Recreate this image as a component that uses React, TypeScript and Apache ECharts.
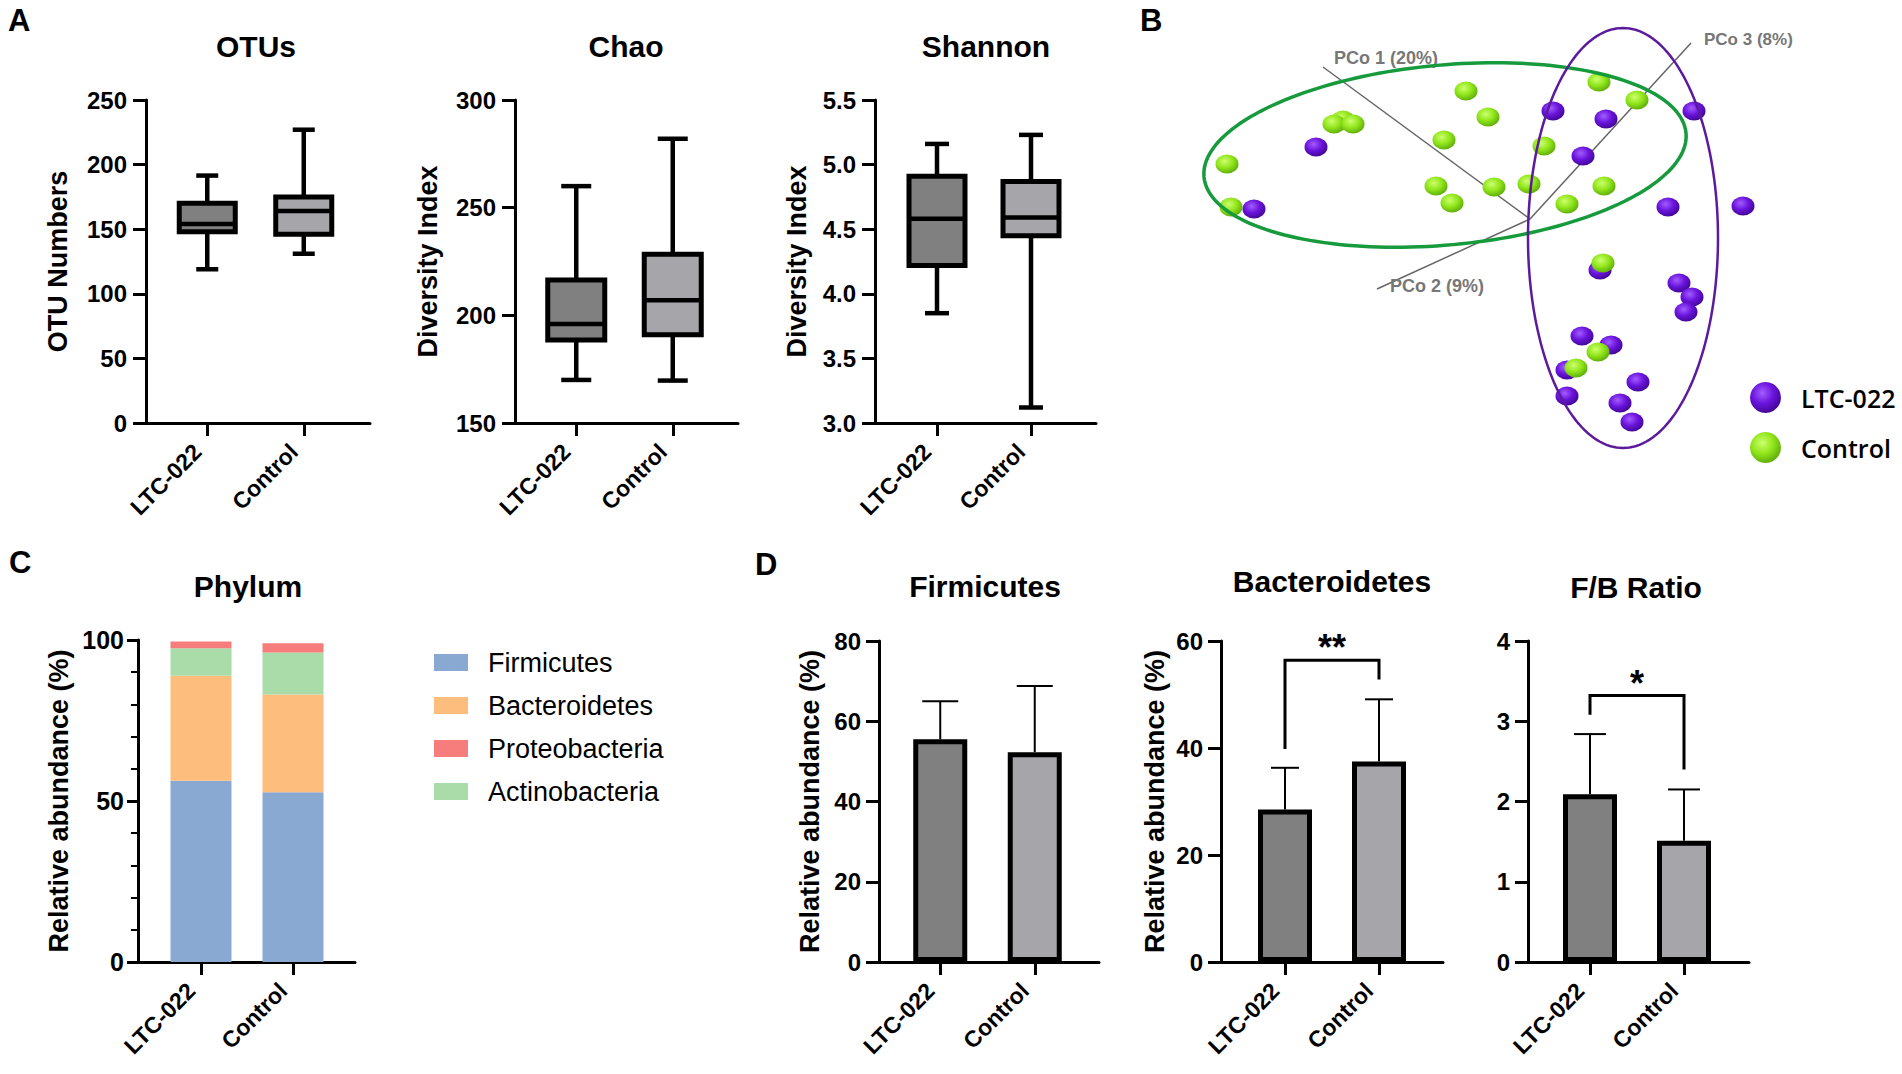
import React, { useEffect, useRef } from 'react';
import * as echarts from 'echarts';

// ---------- data ----------
const groups = ['LTC-022', 'Control'];

// Panel A: box plots, each row = [min, Q1, median, Q3, max]
const otuBoxes = [[119, 148, 154, 170, 191.5], [131, 146, 164, 175, 227]];
const chaoBoxes = [[170, 188.5, 196, 216.4, 260], [169.7, 191, 207, 228.4, 282]];
const shannonBoxes = [[3.85, 4.22, 4.58, 4.91, 5.16], [3.12, 4.45, 4.59, 4.87, 5.23]];

// axis ranges: [min, max, step]
const otuRange = [0, 250, 50];
const chaoRange = [150, 300, 50];
const shannonRange = [3.0, 5.5, 0.5];
const phylumRange = [0, 100, 50];
const firmRange = [0, 80, 20];
const bactRange = [0, 60, 20];
const fbRange = [0, 4, 1];

// Panel B: PCoA scores (projected)
const pcoLabels = ['PCo 1 (20%)', 'PCo 2 (9%)', 'PCo 3 (8%)'];
const pcoAxisEnds = [[-2.07, 1.52], [-1.53, -0.70], [1.61, 1.76]];
const pcoLabelAnchors = [[-1.96, 1.61], [-1.40, -0.67], [1.74, 1.80]];
const ltcScores = [
  [-2.14, 0.72], [-2.76, 0.10], [0.23, 1.08], [0.76, 1.00], [1.64, 1.08], [0.53, 0.63],
  [1.38, 0.12], [2.13, 0.13], [0.70, -0.51], [1.49, -0.64], [1.62, -0.78], [1.56, -0.93],
  [0.52, -1.17], [0.81, -1.26], [0.37, -1.51], [1.08, -1.63], [0.37, -1.77], [0.90, -1.84],
  [1.02, -2.03],
];
const controlScores = [
  [-0.64, 1.28], [-0.42, 1.02], [-1.87, 0.99], [-1.96, 0.95], [-1.77, 0.95], [-0.86, 0.79],
  [-3.03, 0.55], [-0.94, 0.33], [-0.36, 0.32], [-0.78, 0.16], [-2.99, 0.12], [0.69, 1.37],
  [1.07, 1.19], [0.14, 0.73], [-0.01, 0.35], [0.74, 0.33], [0.37, 0.15], [0.73, -0.44],
  [0.68, -1.33], [0.46, -1.49],
];
// [centerX, centerY, radiusX, radiusY, rotationDeg]
const controlEllipse = [-0.85, 0.64, 2.42, 0.90, 5.2];
const ltcEllipse = [0.93, -0.19, 0.95, 2.10, 0];

// Panel C: relative abundance (%) per group
const phylumLegend = ['Firmicutes', 'Bacteroidetes', 'Proteobacteria', 'Actinobacteria'];
const firmicutesPct = [56.3, 52.7];
const bacteroidetesPct = [32.6, 30.4];
const actinobacteriaPct = [8.5, 13.0];
const proteobacteriaPct = [2.1, 2.9];

// Panel D: mean and SD
const firmMean = [55.5, 52.3];
const firmSD = [9.5, 16.5];
const bactMean = [28.5, 37.5];
const bactSD = [7.8, 11.6];
const fbMean = [2.09, 1.51];
const fbSD = [0.75, 0.64];
// significance brackets: [fromGroup, toGroup, barLevel, leftEnd, rightEnd, labelLevel]
const bactBracket = [0, 1, 56.4, 39.8, 52.8, 60.2];
const bactStars = '**';
const fbBracket = [0, 1, 3.32, 3.08, 2.40, 3.57];
const fbStars = '*';

// ---------- styles ----------
const FONT = '"Liberation Sans", Arial, Helvetica, sans-serif';
const GROUP_FILL = ['#808080', '#a6a6aa'];
const PHYLUM_COLORS: Record<string, string> = {
  Firmicutes: '#8aa9d2',
  Bacteroidetes: '#fdbd7c',
  Proteobacteria: '#f77c7c',
  Actinobacteria: '#a9dca8',
};
const SPHERE_PATH = 'path://M0,10 A10,10 0 1,1 20,10 A10,10 0 1,1 0,10 Z';

function buildOption() {
  const grid: any[] = [];
  const xAxis: any[] = [];
  const yAxis: any[] = [];
  const series: any[] = [];

  const axisLine = { show: true, onZero: false, lineStyle: { color: '#000', width: 3 } };

  function panel(p: any) {
    const height = p.bottom - p.top;
    grid.push({ left: p.frameLeft, top: p.top, width: p.frameRight - p.frameLeft, height });
    const fg = grid.length - 1;
    grid.push({ left: p.dataLeft, top: p.top, width: p.dataWidth, height });
    const dg = grid.length - 1;
    xAxis.push({
      type: 'value', gridIndex: fg, min: 0, max: 1, axisLine,
      axisTick: { show: false }, axisLabel: { show: false }, splitLine: { show: false },
    });
    yAxis.push({
      type: 'value', gridIndex: fg, min: p.range[0], max: p.range[1], interval: p.range[2],
      axisLine,
      axisTick: { show: true, length: p.tickLen || 13, lineStyle: { color: '#000', width: 3 } },
      minorTick: p.minor
        ? { show: true, splitNumber: 5, length: 7, lineStyle: { color: '#000', width: 2 } }
        : { show: false },
      axisLabel: {
        color: '#000', fontFamily: FONT, fontWeight: 'bold', fontSize: p.labelSize,
        margin: p.labelMargin, formatter: p.fmt,
      },
      splitLine: { show: false },
      name: p.yName || '', nameLocation: 'middle', nameRotate: 90, nameGap: p.nameGap,
      nameTextStyle: { color: '#000', fontFamily: FONT, fontWeight: 'bold', fontSize: p.nameSize },
    });
    const dx = xAxis.length;
    xAxis.push({
      type: 'category', gridIndex: dg, data: groups,
      axisLine: { show: false },
      axisTick: { show: true, alignWithLabel: true, length: 13, lineStyle: { color: '#000', width: 3 } },
      axisLabel: {
        rotate: 45, interval: 0, margin: 15, padding: [0, 14, 0, 0], color: '#000', fontFamily: FONT,
        fontWeight: 'bold', fontSize: 23,
      },
    });
    const dy = yAxis.length;
    yAxis.push({ type: 'value', gridIndex: dg, min: p.range[0], max: p.range[1], show: false });
    return { x: dx, y: dy };
  }

  function boxSeries(ax: any, boxes: number[][], boxW: number, capW: number) {
    series.push({
      type: 'custom', xAxisIndex: ax.x, yAxisIndex: ax.y, clip: false, z: 3,
      data: boxes.map((b, i) => [i, ...b]),
      encode: { x: 0, y: [1, 2, 3, 4, 5] },
      renderItem: (params: any, api: any) => {
        const i = api.value(0);
        const [pMin, pQ1, pMed, pQ3, pMax] = [1, 2, 3, 4, 5].map((d) => api.coord([i, api.value(d)]));
        const cx = pMed[0];
        const ls = { stroke: '#000', lineWidth: 4.5 };
        return {
          type: 'group',
          children: [
            { type: 'line', shape: { x1: cx, y1: pMax[1], x2: cx, y2: pQ3[1] }, style: ls },
            { type: 'line', shape: { x1: cx, y1: pQ1[1], x2: cx, y2: pMin[1] }, style: ls },
            { type: 'line', shape: { x1: cx - capW / 2, y1: pMax[1], x2: cx + capW / 2, y2: pMax[1] }, style: ls },
            { type: 'line', shape: { x1: cx - capW / 2, y1: pMin[1], x2: cx + capW / 2, y2: pMin[1] }, style: ls },
            {
              type: 'rect',
              shape: { x: cx - boxW / 2, y: pQ3[1], width: boxW, height: pQ1[1] - pQ3[1] },
              style: { fill: GROUP_FILL[params.dataIndex], stroke: '#000', lineWidth: 5 },
            },
            { type: 'line', shape: { x1: cx - boxW / 2, y1: pMed[1], x2: cx + boxW / 2, y2: pMed[1] }, style: ls },
          ],
        };
      },
    });
  }

  function meanBars(ax: any, name: string, mean: number[], sd: number[], capW: number) {
    series.push({
      type: 'bar', name, xAxisIndex: ax.x, yAxisIndex: ax.y, barWidth: 54, z: 3,
      data: mean.map((v, i) => ({ value: v, itemStyle: { color: GROUP_FILL[i] } })),
      itemStyle: { borderColor: '#000', borderWidth: 5 },
    });
    series.push({
      type: 'custom', xAxisIndex: ax.x, yAxisIndex: ax.y, clip: false, z: 2,
      data: mean.map((m, i) => [i, m, m + sd[i]]),
      encode: { x: 0, y: [1, 2] },
      renderItem: (params: any, api: any) => {
        const i = api.value(0);
        const p0 = api.coord([i, api.value(1)]);
        const p1 = api.coord([i, api.value(2)]);
        const ls = { stroke: '#000', lineWidth: 2 };
        return {
          type: 'group',
          children: [
            { type: 'line', shape: { x1: p0[0], y1: p0[1], x2: p1[0], y2: p1[1] }, style: ls },
            { type: 'line', shape: { x1: p1[0] - capW / 2, y1: p1[1], x2: p1[0] + capW / 2, y2: p1[1] }, style: ls },
          ],
        };
      },
    });
  }

  function bracket(ax: any, b: number[], label: string) {
    series.push({
      type: 'custom', xAxisIndex: ax.x, yAxisIndex: ax.y, clip: false, z: 4,
      data: [b],
      encode: { x: [0, 1], y: [2, 3, 4, 5] },
      renderItem: (params: any, api: any) => {
        const a = api.value(0);
        const c = api.value(1);
        const top = api.value(2);
        const pl = api.coord([a, api.value(3)]);
        const plt = api.coord([a, top]);
        const prt = api.coord([c, top]);
        const pr = api.coord([c, api.value(4)]);
        const pStar = api.coord([a, api.value(5)]);
        return {
          type: 'group',
          children: [
            {
              type: 'polyline',
              shape: { points: [pl, plt, prt, pr] },
              style: { stroke: '#000', lineWidth: 3, fill: null },
            },
            {
              type: 'text',
              x: (plt[0] + prt[0]) / 2,
              y: pStar[1] + 8,
              style: {
                text: label, fill: '#000', font: `bold 36px ${FONT}`,
                align: 'center', verticalAlign: 'middle', textAlign: 'center', textVerticalAlign: 'middle',
              },
            },
          ],
        };
      },
    });
  }

  // ---- Panel A ----
  const aTop = 100, aBottom = 423;
  const otuAx = panel({
    frameLeft: 146, frameRight: 370, top: aTop, bottom: aBottom, dataLeft: 159, dataWidth: 193,
    range: otuRange, labelSize: 24, labelMargin: 19, yName: 'OTU Numbers', nameGap: 75, nameSize: 27,
  });
  boxSeries(otuAx, otuBoxes, 56, 22);
  const chaoAx = panel({
    frameLeft: 515, frameRight: 738, top: aTop, bottom: aBottom, dataLeft: 528, dataWidth: 193,
    range: chaoRange, labelSize: 24, labelMargin: 19, yName: 'Diversity Index', nameGap: 74, nameSize: 27,
  });
  boxSeries(chaoAx, chaoBoxes, 57, 30);
  const shanAx = panel({
    frameLeft: 875, frameRight: 1096, top: aTop, bottom: aBottom, dataLeft: 890, dataWidth: 188,
    range: shannonRange, labelSize: 24, labelMargin: 19, yName: 'Diversity Index', nameGap: 65, nameSize: 27,
    fmt: (v: number) => v.toFixed(1),
  });
  boxSeries(shanAx, shannonBoxes, 56, 24);

  // ---- Panel C ----
  const lTop = 641, lBottom = 962;
  const phyAx = panel({
    frameLeft: 138, frameRight: 355, top: 640, bottom: lBottom, dataLeft: 155, dataWidth: 184,
    range: phylumRange, labelSize: 25, labelMargin: 14, tickLen: 11, minor: true,
    yName: 'Relative abundance (%)', nameGap: 66, nameSize: 27,
  });
  const stacks: [string, number[]][] = [
    ['Firmicutes', firmicutesPct],
    ['Bacteroidetes', bacteroidetesPct],
    ['Actinobacteria', actinobacteriaPct],
    ['Proteobacteria', proteobacteriaPct],
  ];
  stacks.forEach(([name, vals]) => {
    series.push({
      type: 'bar', name, stack: 'phylum', xAxisIndex: phyAx.x, yAxisIndex: phyAx.y, barWidth: 61,
      itemStyle: { color: PHYLUM_COLORS[name] }, data: vals,
    });
  });

  // ---- Panel D ----
  const firmAx = panel({
    frameLeft: 879, frameRight: 1099, top: lTop, bottom: lBottom, dataLeft: 893, dataWidth: 189,
    range: firmRange, labelSize: 24, labelMargin: 18, yName: 'Relative abundance (%)', nameGap: 56, nameSize: 27,
  });
  meanBars(firmAx, 'firm-bars', firmMean, firmSD, 36);
  const bactAx = panel({
    frameLeft: 1221, frameRight: 1443, top: lTop, bottom: lBottom, dataLeft: 1238, dataWidth: 188,
    range: bactRange, labelSize: 24, labelMargin: 18, yName: 'Relative abundance (%)', nameGap: 53, nameSize: 27,
  });
  meanBars(bactAx, 'bact-bars', bactMean, bactSD, 28);
  bracket(bactAx, bactBracket, bactStars);
  const fbAx = panel({
    frameLeft: 1528, frameRight: 1749, top: lTop, bottom: lBottom, dataLeft: 1543, dataWidth: 188,
    range: fbRange, labelSize: 24, labelMargin: 18,
  });
  meanBars(fbAx, 'fb-bars', fbMean, fbSD, 32);
  bracket(fbAx, fbBracket, fbStars);

  // ---- Panel B ----
  grid.push({ left: 1130, top: 19, width: 700, height: 440 });
  const bg = grid.length - 1;
  const bx = xAxis.length;
  xAxis.push({ type: 'value', gridIndex: bg, min: -4, max: 3, show: false });
  const by = yAxis.length;
  yAxis.push({ type: 'value', gridIndex: bg, min: -2.4, max: 2.0, show: false });

  const ellipseSeries = (e: number[], color: string, width: number) => ({
    type: 'custom', xAxisIndex: bx, yAxisIndex: by, clip: false, z: 5, silent: true,
    data: [e],
    encode: { x: 0, y: 1 },
    renderItem: (params: any, api: any) => {
      const cx = api.value(0), cy = api.value(1), rx = api.value(2), ry = api.value(3);
      const th = (api.value(4) * Math.PI) / 180;
      const pts: number[][] = [];
      for (let k = 0; k < 180; k++) {
        const t = (k / 180) * Math.PI * 2;
        const x = cx + rx * Math.cos(t) * Math.cos(th) - ry * Math.sin(t) * Math.sin(th);
        const y = cy + rx * Math.cos(t) * Math.sin(th) + ry * Math.sin(t) * Math.cos(th);
        pts.push(api.coord([x, y]));
      }
      return { type: 'polygon', shape: { points: pts }, style: { fill: null, stroke: color, lineWidth: width } };
    },
  });

  series.push({
    type: 'custom', xAxisIndex: bx, yAxisIndex: by, clip: false, z: 1, silent: true,
    data: pcoAxisEnds.map((e, i) => [e[0], e[1], pcoLabelAnchors[i][0], pcoLabelAnchors[i][1]]),
    encode: { x: [0, 2], y: [1, 3] },
    renderItem: (params: any, api: any) => {
      const o = api.coord([0, 0]);
      const e = api.coord([api.value(0), api.value(1)]);
      const l = api.coord([api.value(2), api.value(3)]);
      const sizes = [18, 18, 17];
      return {
        type: 'group',
        children: [
          { type: 'line', shape: { x1: o[0], y1: o[1], x2: e[0], y2: e[1] }, style: { stroke: '#666', lineWidth: 1.5 } },
          {
            type: 'text', x: l[0], y: l[1],
            style: {
              text: pcoLabels[params.dataIndex], fill: '#777',
              font: `bold ${sizes[params.dataIndex]}px ${FONT}`,
              align: 'left', verticalAlign: 'middle', textAlign: 'left', textVerticalAlign: 'middle',
            },
          },
        ],
      };
    },
  });

  const purpleGrad = new echarts.graphic.RadialGradient(0.4, 0.35, 0.7, [
    { offset: 0, color: '#a45cff' },
    { offset: 0.5, color: '#6a14dc' },
    { offset: 1, color: '#3e068f' },
  ]);
  const greenGrad = new echarts.graphic.RadialGradient(0.4, 0.35, 0.7, [
    { offset: 0, color: '#ccff6e' },
    { offset: 0.5, color: '#92e61c' },
    { offset: 1, color: '#5aa808' },
  ]);

  series.push({
    type: 'scatter', name: 'LTC-022', xAxisIndex: bx, yAxisIndex: by, z: 2,
    symbol: SPHERE_PATH, symbolSize: [23, 19], itemStyle: { color: purpleGrad, opacity: 1 },
    data: ltcScores,
  });
  series.push({
    type: 'scatter', name: 'Control', xAxisIndex: bx, yAxisIndex: by, z: 3,
    symbol: SPHERE_PATH, symbolSize: [23, 19], itemStyle: { color: greenGrad, opacity: 1 },
    data: controlScores,
  });
  series.push(ellipseSeries(controlEllipse, '#169a3c', 3.5));
  series.push(ellipseSeries(ltcEllipse, '#5c1a9c', 2.5));

  const textEl = (text: string, x: number, y: number, size: number, align = 'center') => ({
    type: 'text', x, y, silent: true,
    style: {
      text, fill: '#000', font: `bold ${size}px ${FONT}`,
      align, verticalAlign: 'middle', textAlign: align, textVerticalAlign: 'middle',
    },
  });

  return {
    animation: false,
    backgroundColor: '#fff',
    grid,
    xAxis,
    yAxis,
    series,
    legend: [
      {
        data: phylumLegend, orient: 'vertical', left: 429, top: 644, icon: 'rect',
        itemWidth: 34, itemHeight: 17, itemGap: 16, selectedMode: false,
        textStyle: { color: '#000', fontFamily: FONT, fontSize: 27, lineHeight: 27, padding: [0, 0, 0, 15] },
      },
      {
        data: groups, orient: 'vertical', left: 1745, top: 377, icon: 'circle',
        itemWidth: 31, itemHeight: 31, itemGap: 19, selectedMode: false,
        textStyle: {
          color: '#000', fontFamily: '"Open Sans", "Noto Sans", sans-serif', fontWeight: 600,
          fontSize: 25, lineHeight: 31, padding: [0, 0, 0, 15],
        },
      },
    ],
    graphic: [
      textEl('A', 8, 20, 31, 'left'),
      textEl('B', 1140, 20, 31, 'left'),
      textEl('C', 9, 562, 31, 'left'),
      textEl('D', 755, 564, 31, 'left'),
      textEl('OTUs', 256, 46, 30),
      textEl('Chao', 626, 46, 30),
      textEl('Shannon', 986, 46, 30),
      textEl('Phylum', 248, 586, 30),
      textEl('Firmicutes', 985, 586, 30),
      textEl('Bacteroidetes', 1332, 581, 30),
      textEl('F/B Ratio', 1636, 587, 30),
    ],
  };
}

export default function App() {
  const ref = useRef<HTMLDivElement>(null);
  useEffect(() => {
    if (!ref.current) return;
    const chart = echarts.init(ref.current, null, { renderer: 'svg' });
    chart.setOption(buildOption() as any);
    return () => chart.dispose();
  }, []);
  return (
    <div
      ref={ref}
      style={{ position: 'fixed', left: 0, top: 0, width: 1902, height: 1074, background: '#fff' }}
    />
  );
}
